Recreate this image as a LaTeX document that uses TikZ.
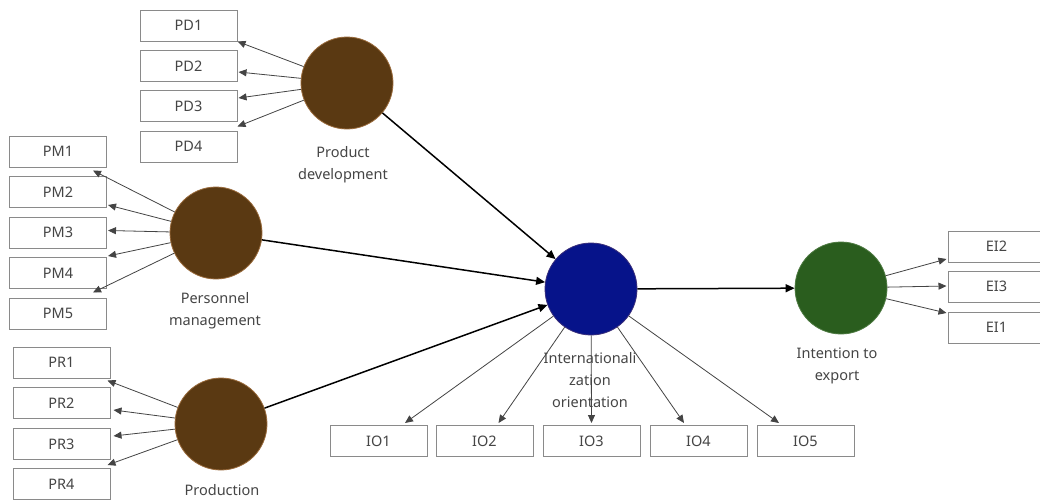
\documentclass[tikz,border=0pt]{standalone}
\usepackage{fontspec}
\setmainfont{Noto Sans}
\usetikzlibrary{arrows.meta,calc}

\definecolor{txtgray}{HTML}{454545}
\definecolor{boxgray}{HTML}{8A8A8A}
\definecolor{brownfill}{HTML}{5A3912}
\definecolor{browndraw}{HTML}{9A6B3C}
\definecolor{bluefill}{HTML}{06138A}
\definecolor{bluedraw}{HTML}{3A2F7A}
\definecolor{greenfill}{HTML}{2A5D1E}
\definecolor{greendraw}{HTML}{4E7A42}
\definecolor{loadgray}{HTML}{444444}

\tikzset{
  x=1pt, y=-1pt,
  every node/.style={text=txtgray, font=\fontsize{14.5}{22}\selectfont},
  indicator/.style={draw=boxgray, line width=1pt, fill=white,
    minimum width=97pt, minimum height=31pt, inner sep=0pt},
  construct/.style={circle, minimum size=92pt, inner sep=0pt, line width=0.8pt},
  brownlv/.style={construct, fill=brownfill, draw=browndraw},
  bluelv/.style={construct, fill=bluefill, draw=bluedraw},
  greenlv/.style={construct, fill=greenfill, draw=greendraw},
  lvlabel/.style={align=center, inner sep=0pt},
  loading/.style={draw=loadgray, line width=0.8pt, -{Triangle[length=8pt,width=7pt]}},
  path/.style={draw=black, line width=1.5pt, -{Triangle[length=9pt,width=8pt]}}
}

\begin{document}
\begin{tikzpicture}
\fill[white] (0,0) rectangle (1040,499);
\useasboundingbox (0,0) rectangle (1040,499);

% Product development block
\node[indicator] (PD1) at (188.5,25.5) {PD1};
\node[indicator] (PD2) at (188.5,66) {PD2};
\node[indicator] (PD3) at (188.5,106) {PD3};
\node[indicator] (PD4) at (188.5,146.5) {PD4};
\node[brownlv] (PD) at (347,83) {};
\node[lvlabel] (PDl) at (343,165) {Product\\development};

% Personnel management block
\node[indicator] (PM1) at (58,151.5) {PM1};
\node[indicator] (PM2) at (58,192) {PM2};
\node[indicator] (PM3) at (58,232.5) {PM3};
\node[indicator] (PM4) at (58,273) {PM4};
\node[indicator] (PM5) at (58,313.5) {PM5};
\node[brownlv] (PM) at (216,233) {};
\node[lvlabel] (PMl) at (215,310.5) {Personnel\\management};

% Production block
\node[indicator] (PR1) at (61.5,362.5) {PR1};
\node[indicator] (PR2) at (61.5,403) {PR2};
\node[indicator] (PR3) at (61.5,444) {PR3};
\node[indicator] (PR4) at (61.5,484) {PR4};
\node[brownlv] (PR) at (221,424) {};
\node[lvlabel] (PRl) at (222,490) {Production};

% Internationalization orientation block
\node[indicator] (IO1) at (378.5,441) {IO1};
\node[indicator] (IO2) at (484.5,441) {IO2};
\node[indicator] (IO3) at (591.5,441) {IO3};
\node[indicator] (IO4) at (698.5,441) {IO4};
\node[indicator] (IO5) at (805.5,441) {IO5};
\node[bluelv] (IO) at (591,289) {};
\node[lvlabel] (IOl) at (590,380) {Internationali\\zation\\orientation};

% Intention to export block
\node[indicator] (EI2) at (996.5,246.5) {EI2};
\node[indicator] (EI3) at (996.5,286.5) {EI3};
\node[indicator] (EI1) at (996.5,327.5) {EI1};
\node[greenlv] (EI) at (841,288) {};
\node[lvlabel] (EIl) at (837,366) {Intention to\\export};

% Outer loadings
\draw[loading] (PD) -- (PD1.south east);
\draw[loading] (PD) -- ($(PD2.east)+(1,6)$);
\draw[loading] (PD) -- ($(PD3.east)+(1,-8)$);
\draw[loading] (PD) -- ($(PD4.north east)+(0,-4)$);

\draw[loading] (PM) -- ($(PM1.south east)+(-14,3)$);
\draw[loading] (PM) -- ($(PM2.south east)+(1,-3)$);
\draw[loading] (PM) -- ($(PM3.east)+(1,-2)$);
\draw[loading] (PM) -- ($(PM4.north east)+(1,-1)$);
\draw[loading] (PM) -- ($(PM5.north east)+(-14,-5)$);

\draw[loading] (PR) -- ($(PR1.south east)+(-3,2)$);
\draw[loading] (PR) -- ($(PR2.east)+(3,7)$);
\draw[loading] (PR) -- ($(PR3.east)+(3,-8)$);
\draw[loading] (PR) -- ($(PR4.north east)+(-3,-3)$);

\draw[loading] (IO) -- ($(IO1.north)+(26.5,-2)$);
\draw[loading] (IO) -- ($(IO2.north)+(14,-2)$);
\draw[loading] (IO) -- ($(IO3.north)+(0,-2)$);
\draw[loading] (IO) -- ($(IO4.north)+(-14.5,-2)$);
\draw[loading] (IO) -- ($(IO5.north)+(-26.5,-2)$);

\draw[loading] (EI) -- ($(EI2.west)+(-1,12.5)$);
\draw[loading] (EI) -- ($(EI3.west)+(-1,-0.5)$);
\draw[loading] (EI) -- ($(EI1.west)+(-1,-14.5)$);

% Structural paths
\draw[path] (PD) -- (IO);
\draw[path] (PM) -- (IO);
\draw[path] (PR) -- (IO);
\draw[path] (IO) -- (EI);
\end{tikzpicture}
\end{document}
